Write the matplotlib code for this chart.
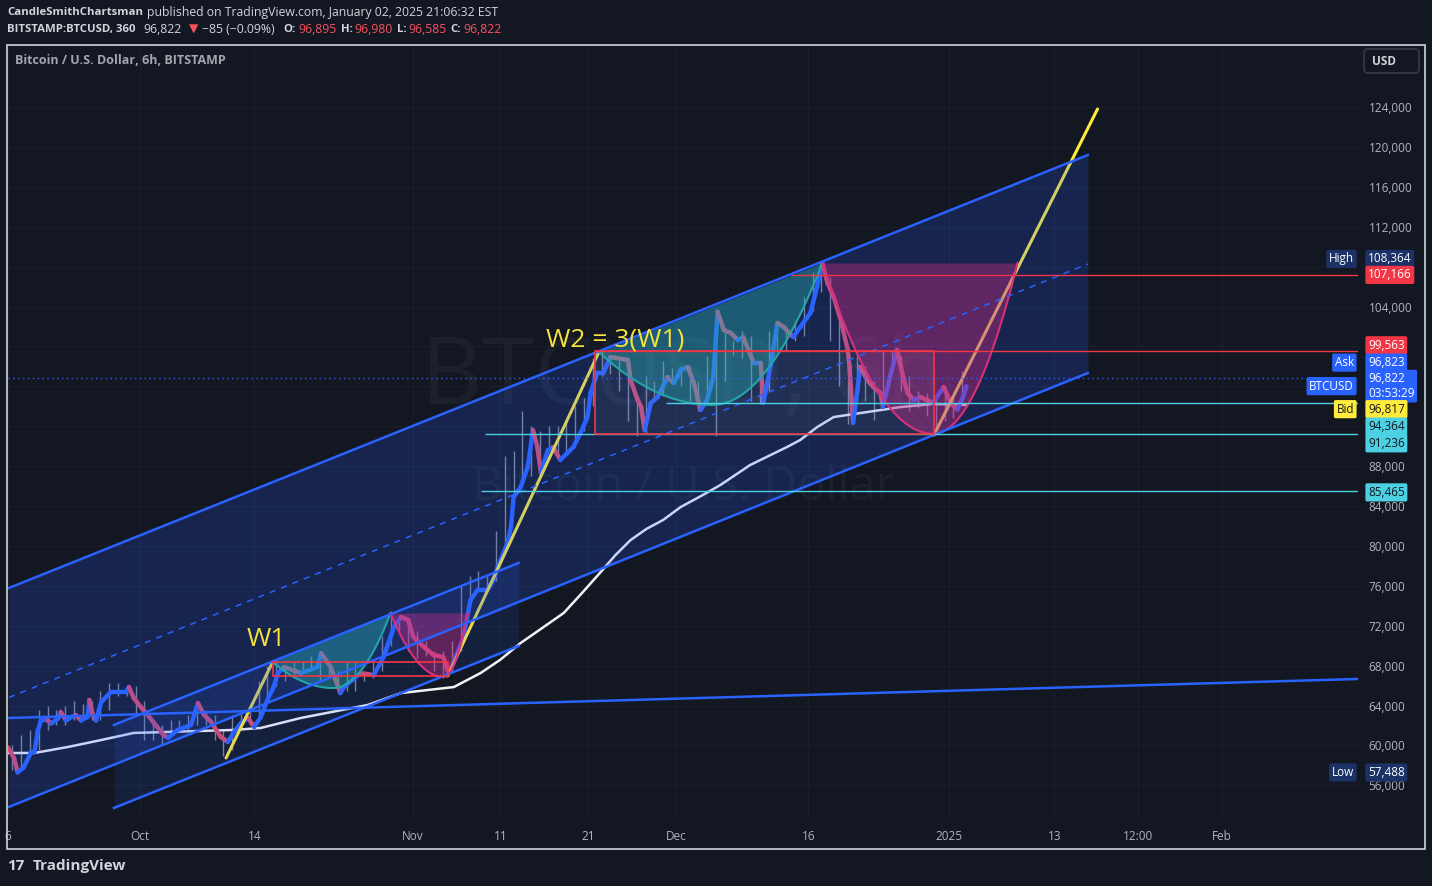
import numpy as np
import matplotlib.pyplot as plt
from matplotlib.collections import LineCollection
from matplotlib.patches import Rectangle, FancyBboxPatch

plt.rcParams["font.family"] = ["Open Sans", "DejaVu Sans"]

BG = "#131722"
TXT = "#b2b5be"
HEAD = "#d1d4dc"
BLUE = "#2962ff"
RED = "#f23645"
CYAN = "#4dd0e1"
YELLOW = "#ffeb3b"
W, H = 1432, 886

# ---------------- data (x = days from 1 Oct 2024, y = USD) ----------------
candle_day = np.arange(-15, 94)
candle_low = np.array([
    57.5, 57.6, 58.8, 59.5, 61.5, 62.0, 62.0, 62.5, 62.5, 62.5,
    62.5, 63.5, 65.0, 65.0, 63.0, 60.5, 60.5, 60.0, 60.8, 61.5,
    61.5, 62.0, 62.0, 60.5, 58.9, 59.5, 61.5, 62.0, 62.5, 64.8,
    66.0, 66.5, 67.0, 67.5, 67.5, 66.5, 66.8, 65.3, 65.5, 65.5,
    66.5, 66.8, 67.5, 70.0, 71.5, 69.5, 68.8, 69.0, 67.5, 66.8,
    67.5, 69.5, 74.5, 75.5, 75.8, 76.5, 80.0, 85.0, 86.0, 87.0,
    87.5, 90.0, 89.0, 89.5, 90.5, 91.5, 94.0, 97.0, 97.2, 95.5,
    92.5, 91.0, 91.3, 94.8, 95.0, 96.5, 96.0, 94.5, 93.5, 94.5,
    91.0, 96.5, 99.0, 98.8, 94.5, 94.2, 95.5, 99.5, 99.5, 100.5,
    101.0, 103.5, 105.5, 100.5, 96.0, 92.2, 96.5, 94.5, 92.6, 94.5,
    97.8, 95.5, 93.5, 93.8, 93.0, 91.4, 92.5, 92.8, 94.5]) * 1000
candle_high = np.array([
    60.0, 61.0, 61.5, 63.5, 64.0, 63.5, 64.0, 64.5, 64.2, 64.5,
    65.5, 66.3, 66.3, 66.0, 66.0, 64.5, 62.5, 62.0, 62.5, 62.5,
    63.0, 64.5, 63.5, 63.0, 61.5, 63.0, 63.5, 63.5, 66.5, 68.0,
    68.5, 68.0, 68.5, 68.5, 69.0, 69.3, 68.0, 67.5, 68.5, 68.5,
    67.5, 68.5, 71.0, 73.5, 73.0, 72.5, 71.5, 70.5, 69.5, 69.5,
    70.5, 76.0, 77.0, 77.5, 77.0, 81.5, 89.0, 89.5, 93.5, 92.0,
    91.5, 92.0, 92.0, 92.5, 94.0, 94.8, 98.8, 99.5, 99.0, 98.5,
    98.5, 94.8, 97.0, 96.5, 98.5, 97.8, 98.0, 98.0, 96.5, 99.0,
    103.8, 101.5, 100.5, 101.5, 101.0, 98.5, 101.5, 102.5, 102.0, 102.5,
    105.0, 107.5, 108.4, 107.0, 102.5, 98.0, 99.5, 98.0, 96.5, 99.5,
    99.6, 99.0, 97.0, 95.5, 95.3, 94.8, 96.0, 95.0, 97.5]) * 1000

fast_day = [
    -15.0, -14.3, -13.9, -13.2, -12.4, -12.0, -11.6, -11.25, -10.45, -10.1,
    -9.3, -9.0, -8.4, -7.8, -7.3, -6.7, -5.95, -5.75, -5.35, -5.0,
    -4.4, -3.3, -1.6, -1.25, -0.7, 0.1, 0.9, 1.6, 2.7, 3.2,
    4.3, 5.8, 6.6, 7.3, 8.1, 9.2, 10.0, 10.7, 11.5, 12.3,
    13.0, 13.75, 14.5, 15.2, 15.7, 16.4, 18.3, 20.2, 20.6, 21.7,
    22.8, 23.2, 25.1, 26.6, 27.7, 28.9, 29.7, 30.5, 31.1, 32.3,
    33.4, 34.5, 35.1, 36.1, 36.8, 37.6, 38.4, 39.5, 40.2, 40.7,
    41.8, 42.2, 42.5, 43.3, 44.1, 44.7, 45.2, 45.6, 46.4, 47.0,
    47.8, 48.6, 49.3, 50.1, 50.9, 51.25, 52.0, 52.7, 53.5, 55.5,
    55.8, 56.6, 57.0, 57.4, 58.1, 58.9, 60.0, 60.7, 61.5, 62.3,
    63.0, 63.75, 64.5, 65.2, 65.7, 66.4, 67.2, 68.0, 68.6, 69.8,
    70.6, 70.9, 71.7, 72.5, 73.2, 74.3, 75.1, 76.25, 77.0, 77.6,
    78.2, 78.9, 79.7, 80.5, 80.7, 81.1, 81.6, 81.9, 82.7, 83.4,
    84.2, 84.5, 85.3, 86.1, 86.8, 87.3, 88.0, 88.75, 89.5, 90.2,
    91.4, 92.2, 92.95, 93.6, 94.0]
fast_price = np.array([
    59.8, 58.7, 57.3, 57.8, 59.3, 59.3, 61.5, 62.5, 62.5, 62.2,
    62.7, 63.35, 62.5, 62.85, 63.05, 62.5, 62.85, 64.55, 63.05, 62.5,
    64.35, 65.35, 65.35, 65.85, 64.75, 63.85, 63.05, 62.25, 61.05, 60.75,
    61.55, 62.05, 64.25, 63.05, 62.35, 60.85, 60.35, 61.35, 62.25, 62.75,
    61.85, 62.85, 64.55, 65.85, 67.25, 67.86, 67.25, 67.86, 69.26, 67.86,
    65.25, 65.85, 67.25, 67.05, 68.86, 71.87, 72.87, 72.57, 70.87, 69.87,
    69.06, 68.86, 67.25, 69.26, 70.87, 74.58, 75.58, 75.58, 76.58, 77.89,
    80.29, 81.89, 84.9, 85.9, 87.91, 91.62, 89.91, 87.31, 89.61, 89.91,
    88.61, 89.31, 89.91, 91.32, 92.92, 95.33, 97.33, 97.33, 98.94, 98.64,
    96.63, 94.63, 93.93, 91.62, 94.33, 94.93, 96.93, 96.33, 97.63, 97.94,
    96.33, 93.63, 94.63, 96.93, 103.45, 101.65, 101.34, 100.64, 100.94, 98.34,
    98.34, 94.33, 97.94, 102.35, 101.95, 100.94, 101.95, 103.35, 105.96, 108.36,
    106.36, 104.95, 102.65, 99.64, 97.94, 92.33, 95.63, 97.94, 96.63, 95.93,
    95.33, 93.93, 96.93, 99.64, 96.93, 95.33, 94.63, 94.93, 94.63, 94.33,
    95.93, 94.33, 93.65, 94.93, 96.0]) * 1000

slow_day = [-15.0, -12.0, -8.2, -4.4, -0.7, 3.2, 6.9, 10.7, 13.75, 18.3,
            25.9, 29.7, 35.7, 38.75, 41.0, 43.3, 45.8, 48.2, 50.3, 52.4,
            54.1, 55.8, 57.6, 59.5, 61.5, 63.8, 66.0, 69.4, 73.6, 75.1,
            77.0, 78.9, 82.7, 86.5, 90.2, 93.9]
slow_price = np.array([59.24, 59.24, 59.84, 60.54, 61.25, 61.35, 61.45, 61.55, 61.75, 62.75,
                       64.05, 65.25, 65.85, 67.26, 68.6, 70.27, 71.8, 73.28, 75.3, 77.38,
                       79.1, 80.59, 81.7, 82.6, 83.9, 85.0, 86.1, 88.11, 89.92, 90.62,
                       91.9, 92.92, 93.42, 93.92, 94.23, 94.13]) * 1000

# channels / drawings
big_ch_days = [-14.9, 107.8]
big_ch_upper = [75780, 119190]
big_ch_lower = [53830, 97330]
small_ch_days = [-2.95, 43.07]
small_ch_upper = [62050, 78290]
small_ch_lower = [53730, 69970]
trend_days = [-14.9, 138.5]
trend_prices = [62750, 66660]

wave_legs = [((9.8, 58740), (15.1, 68360)),
             ((35.0, 66960), (52.2, 99440)),
             ((90.3, 91120), (108.9, 123800))]

# cups: (left, bottom, right) points
teal_cups = [((15.1, 68360), (22.0, 65750), (28.5, 73270)),
             ((52.2, 99440), (65.1, 94130), (77.6, 108360))]
pink_cups = [((28.5, 73270), (34.5, 66860), (37.3, 73270)),
             ((77.6, 108364), (90.2, 91236), (99.8, 108364))]

range_boxes = [(15.1, 35.0, 66960, 68360), (51.8, 90.3, 91236, 99563)]

level_prices = [107166, 99563, 94364, 91236, 85465]
level_start = [74.0, 51.8, 59.8, 39.2, 38.75]
level_colors = [RED, RED, CYAN, CYAN, CYAN]
last_price = 96822

price_ticks = np.arange(56000, 124001, 4000)
covered_ticks = [92000, 96000, 100000, 108000]   # hidden behind price tags
time_ticks = [-15, 0, 13, 31, 41, 51, 61, 76, 92, 104, 113.5, 123]
time_labels = ["6", "Oct", "14", "Nov", "11", "21", "Dec", "16", "2025", "13", "12:00", "Feb"]

# axis price tags: (text, price, tag, bg, fg, shift px)
axis_tags = [("108,364", 108364, "High", "#1c3166", "white", 4),
             ("107,166", 107166, None, RED, "white", -12),
             ("99,563", 99563, None, RED, "white", 5.5),
             ("96,823", 96823, "Ask", BLUE, "white", 15.5),
             ("96,822\n03:53:29", 96822, "BTCUSD", BLUE, "white", -8),
             ("96,817", 96817, "Bid", YELLOW, BG, -31),
             ("94,364", 94364, None, CYAN, BG, -24),
             ("91,236", 91236, None, CYAN, BG, -9.5),
             ("85,465", 85465, None, CYAN, BG, -1),
             ("57,488", 57488, "Low", "#1c3166", "white", -2)]


def draw_cup(ax, left, bottom, right, face, edge):
    xl = np.linspace(left[0], bottom[0], 60)
    yl = bottom[1] + (left[1] - bottom[1]) * ((bottom[0] - xl) / (bottom[0] - left[0])) ** 2
    xr = np.linspace(bottom[0], right[0], 60)
    yr = bottom[1] + (right[1] - bottom[1]) * ((xr - bottom[0]) / (right[0] - bottom[0])) ** 2
    xs = np.concatenate([xl, xr[1:]])
    ys = np.concatenate([yl, yr[1:]])
    chord = np.interp(xs, [left[0], right[0]], [left[1], right[1]])
    ax.fill_between(xs, ys, chord, color=face, alpha=0.38, lw=0, zorder=6)
    ax.plot(xs, ys, color=edge, lw=1.5, zorder=6.5)


fig = plt.figure(figsize=(W / 100, H / 100), dpi=100, facecolor=BG)
ax = fig.add_axes([8 / W, 1 - 820 / H, 1350 / W, 775 / H])
ax.set_facecolor(BG)
ax.set_xlim(-14.886, 138.52)
ax.set_ylim(52522, 130216)
for s in ax.spines.values():
    s.set_visible(False)

ax.yaxis.tick_right()
ax.set_yticks(price_ticks, ["" if v in covered_ticks else f"{v:,}" for v in price_ticks])
ax.set_xticks(time_ticks, time_labels)
ax.tick_params(axis="y", length=0, pad=7.5, labelcolor=TXT, labelsize=8.5)
ax.tick_params(axis="x", length=0, pad=7, labelcolor=TXT, labelsize=8.5)
ax.grid(color="#1b1f2c", lw=0.8, zorder=0)

# watermark
ax.text(0.5, 0.568, "BTCUSD, 6h", transform=ax.transAxes, ha="center", va="center",
        fontsize=68, color="white", alpha=0.04, zorder=0.5)
ax.text(0.5, 0.43, "Bitcoin / U.S. Dollar", transform=ax.transAxes, ha="center", va="center",
        fontsize=34, color="white", alpha=0.04, zorder=0.5)

# candles + averages
ax.vlines(candle_day + 0.5, candle_low, candle_high, color="#d1d4dc", alpha=0.6, lw=1.0, zorder=3)
ax.plot(slow_day, slow_price, color="#f2f2f5", lw=1.8, zorder=3.5)

pts = np.column_stack([fast_day, fast_price])
segs = np.stack([pts[:-1], pts[1:]], axis=1)
seg_cols = [BLUE if b >= a else "#e04a6a" for a, b in zip(fast_price[:-1], fast_price[1:])]
ax.add_collection(LineCollection(segs, colors=seg_cols, linewidths=3.2, capstyle="round",
                                 joinstyle="round", zorder=4))

# wave legs (under channel tint)
for (d0, p0), (d1, p1) in wave_legs:
    ax.plot([d0, d1], [p0, p1], color=YELLOW, lw=2.2, solid_capstyle="round", zorder=4.5)

# channels
ax.fill_between(big_ch_days, big_ch_lower, big_ch_upper, color=BLUE, alpha=0.2, lw=0, zorder=5)
ax.fill_between(small_ch_days, small_ch_lower, small_ch_upper, color=BLUE, alpha=0.12, lw=0, zorder=5)
big_mid = [(a + b) / 2 for a, b in zip(big_ch_upper, big_ch_lower)]
for ys in (big_ch_upper, big_ch_lower):
    ax.plot(big_ch_days, ys, color=BLUE, lw=1.8, zorder=7)
ax.plot(big_ch_days, big_mid, color=BLUE, lw=1.1, dashes=(4, 4), zorder=7)
for ys in (small_ch_upper, small_ch_lower):
    ax.plot(small_ch_days, ys, color=BLUE, lw=1.8, zorder=7)
ax.plot(trend_days, trend_prices, color=BLUE, lw=1.8, zorder=7)

# cups
for l, b, r in teal_cups:
    draw_cup(ax, l, b, r, "#26b5b0", "#22a5a8")
for l, b, r in pink_cups:
    draw_cup(ax, l, b, r, "#d62a8a", "#d6307a")

# range boxes
for i, (d0, d1, p0, p1) in enumerate(range_boxes):
    ax.add_patch(Rectangle((d0, p0), d1 - d0, p1 - p0, fill=False, ec=RED, lw=1.2, zorder=8))
    if i == 1:
        ax.add_patch(Rectangle((d0, p0), d1 - d0, p1 - p0, fc="#b2b5be", alpha=0.07, lw=0, zorder=5.5))

# level lines
xmax = ax.get_xlim()[1]
for p, d0, c in zip(level_prices, level_start, level_colors):
    ax.hlines(p, d0, xmax, color=c, lw=1.0, zorder=7.5)
ax.axhline(last_price, color=BLUE, lw=1.0, ls=(0, (1, 2.5)), zorder=7.5)

# wave labels
ax.text(14.4, 70570, "W1", color="#f5e33b", fontsize=19, ha="center", va="center", zorder=9)
ax.text(54.0, 100640, "W2 = 3(W1)", color="#f5e33b", fontsize=19, ha="center", va="center", zorder=9)

# price axis tags
ytr = ax.get_yaxis_transform()
for txt, p, tag, bg, fg, dy in axis_tags:
    ax.annotate(txt, xy=(1, p), xycoords=ytr, xytext=(10, dy if p != 107166 else 0),
                textcoords="offset pixels",
                ha="left", va="center", fontsize=8.5, color=fg, linespacing=1.15,
                bbox=dict(boxstyle="round,pad=0.22,rounding_size=0.15", fc=bg, ec="none"),
                annotation_clip=False, zorder=12)
    if tag:
        ax.annotate(tag, xy=(1, p), xycoords=ytr, xytext=(-4, dy), textcoords="offset pixels",
                    ha="right", va="center", fontsize=8.5, color=fg,
                    bbox=dict(boxstyle="round,pad=0.22,rounding_size=0.15", fc=bg, ec="none"),
                    annotation_clip=False, zorder=12)

# ---------------- overlay (pixel coordinates) ----------------
ov = fig.add_axes([0, 0, 1, 1], zorder=10)
ov.set_xlim(0, W)
ov.set_ylim(H, 0)
ov.axis("off")
ov.patch.set_alpha(0)

ov.add_patch(Rectangle((7, 45), 1418, 804, fill=False, ec=HEAD, lw=1.2))
ov.add_patch(FancyBboxPatch((1364, 49), 55, 24, boxstyle="round,pad=0,rounding_size=4",
                            fc=BG, ec="#363a45", lw=1.2))
ov.text(1372, 61.5, "USD", color=HEAD, fontsize=8.5, fontweight="bold", va="center")
ov.text(15, 60, "Bitcoin / U.S. Dollar, 6h, BITSTAMP", color="#a3a6af", fontsize=9,
        fontweight="bold", va="center")

header1 = [("CandleSmithChartsman", 7, "bold", HEAD),
           ("published on TradingView.com, January 02, 2025 21:06:32 EST", 147, "normal", HEAD)]
header2 = [("BITSTAMP:BTCUSD, 360", 7, "bold", HEAD), ("96,822", 143, "normal", HEAD),
           ("▼", 189, "normal", "#f7525f"), ("−85 (−0.09%)", 202, "normal", HEAD),
           ("O:", 283, "bold", HEAD), ("96,895", 298, "normal", "#f7525f"),
           ("H:", 341, "bold", HEAD), ("96,980", 354, "normal", "#f7525f"),
           ("L:", 397, "bold", HEAD), ("96,585", 408, "normal", "#f7525f"),
           ("C:", 450, "bold", HEAD), ("96,822", 463, "normal", "#f7525f")]
for y, items in ((12, header1), (29, header2)):
    for s, x, wgt, c in items:
        ov.text(x, y, s, color=c, fontsize=8.2 if wgt == "bold" else 8.8,
                fontweight=wgt, va="center", ha="left")

ov.text(7, 866, "17", color=HEAD, fontsize=11, fontweight="bold", va="center")
ov.text(33, 866, "TradingView", color=HEAD, fontsize=11, fontweight="bold", va="center")

fig.savefig("out.png", dpi=100, facecolor=BG)
